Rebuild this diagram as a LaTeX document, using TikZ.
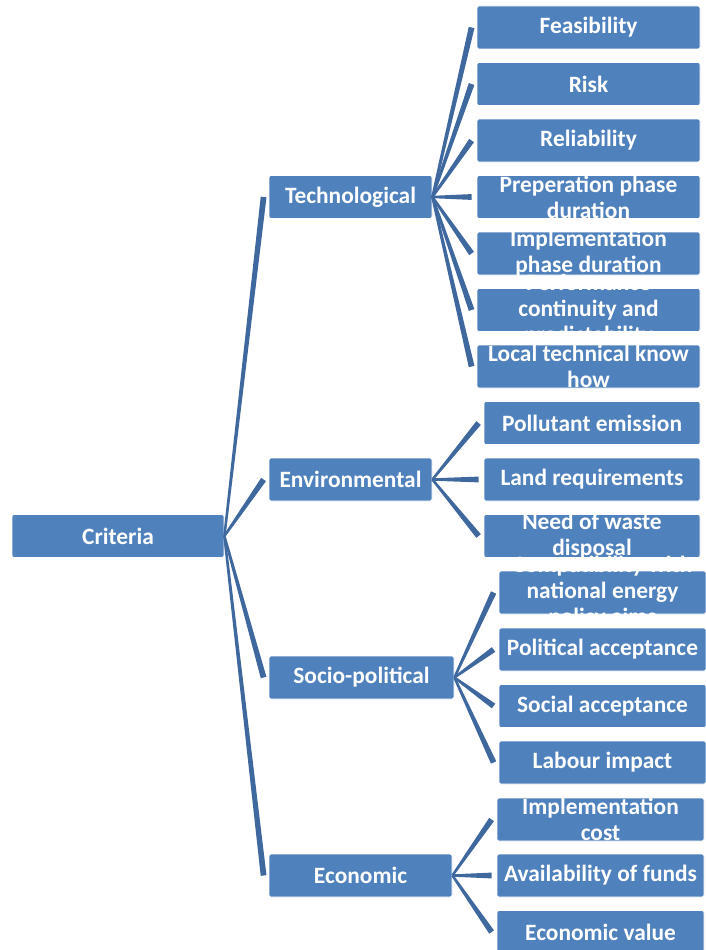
\documentclass[tikz,border=0pt]{standalone}
\usepackage{fontspec}
\setmainfont{Carlito}
\usetikzlibrary{calc,positioning}
\definecolor{boxblue}{RGB}{79,129,189}
\definecolor{linkblue}{RGB}{62,104,158}
\tikzstyle{box} = [rectangle, rounded corners=2pt, draw=white, line width=0.8pt,
fill=boxblue, minimum height=43pt, inner sep=0pt]
\tikzstyle{boxtext} = [text=white, inner sep=0pt, align=center,
font=\bfseries\fontsize{23.4}{26}\selectfont]
\tikzstyle{link} = [fill=linkblue]
% tapered connector, thin at the parent, wide at the child
\newcommand{\branch}[2]{%
\coordinate (tip) at ([xshift=-5pt]#2.west);
\fill[link] ($(#1.east)!1.2pt!90:(tip)$) -- ($(#1.east)!1.2pt!-90:(tip)$)
 -- ($(tip)!2.9pt!90:(#1.east)$) -- ($(tip)!2.9pt!-90:(#1.east)$) -- cycle;}

\begin{document}
\begin{tikzpicture}[x=1pt, y=-1pt]
            \useasboundingbox (0,0) rectangle (706,950);
            \node[box, minimum width=212pt, label={[boxtext]center:Criteria}] (crit) at (118,536) {};
            \node[box, minimum width=163pt, label={[boxtext]center:Technological}] (tech) at (350.5,197) {};
            \node[box, minimum width=163pt, label={[boxtext]center:Environmental}] (env) at (350.5,479.5) {};
            \node[box, minimum width=185pt, label={[boxtext]center:Socio-political}] (socio) at (361.5,677.5) {};
            \node[box, minimum width=183pt, label={[boxtext]center:Economic}] (econ) at (360.5,875.5) {};
            % technological
            \node[box, minimum width=223pt, label={[boxtext]center:Feasibility}] (feas) at (588.5,27.5) {};
            \node[box, minimum width=223pt, label={[boxtext]center:Risk}] (risk) at (588.5,84) {};
            \node[box, minimum width=223pt, label={[boxtext]center:Reliability}] (reli) at (588.5,140.5) {};
            \node[box, minimum width=223pt, label={[boxtext]center:{Preperation phase\\duration}}] (prep) at (588.5,197) {};
            \node[box, minimum width=223pt, label={[boxtext]center:{Implementation\\phase duration}}] (impl) at (588.5,253.5) {};
            \node[box, minimum width=223pt, label={[boxtext]center:{Performance\\continuity and\\predictability}}] (perf) at (588.5,310) {};
            \node[box, minimum width=223pt, label={[boxtext]center:{Local technical know\\how}}] (know) at (588.5,366.5) {};
            % environmental
            \node[box, minimum width=216pt, label={[boxtext]center:Pollutant emission}] (poll) at (592,423) {};
            \node[box, minimum width=216pt, label={[boxtext]center:Land requirements}] (land) at (592,479.5) {};
            \node[box, minimum width=216pt, label={[boxtext]center:{Need of waste\\disposal}}] (waste) at (592,536) {};
            % socio-political
            \node[box, minimum width=207pt, label={[boxtext]center:{Compatibility with\\national energy\\policy aims}}] (comp) at (602.5,592.5) {};
            \node[box, minimum width=207pt, label={[boxtext]center:Political acceptance}] (poli) at (602.5,649.5) {};
            \node[box, minimum width=207pt, label={[boxtext]center:Social acceptance}] (soci) at (602.5,706) {};
            \node[box, minimum width=207pt, label={[boxtext]center:Labour impact}] (labr) at (602.5,762.5) {};
            % economic
            \node[box, minimum width=207pt, label={[boxtext]center:{Implementation\\cost}}] (cost) at (600.5,819.5) {};
            \node[box, minimum width=207pt, label={[boxtext]center:Availability of funds}] (fund) at (600.5,875.5) {};
            \node[box, minimum width=207pt, label={[boxtext]center:Economic value}] (eval) at (600.5,932) {};
            % connectors
            \branch{crit}{tech} \branch{crit}{env} \branch{crit}{socio} \branch{crit}{econ}
            \branch{tech}{feas} \branch{tech}{risk} \branch{tech}{reli} \branch{tech}{prep}
            \branch{tech}{impl} \branch{tech}{perf} \branch{tech}{know}
            \branch{env}{poll} \branch{env}{land} \branch{env}{waste}
            \branch{socio}{comp} \branch{socio}{poli} \branch{socio}{soci} \branch{socio}{labr}
            \branch{econ}{cost} \branch{econ}{fund} \branch{econ}{eval}
        \end{tikzpicture}
\end{document}
